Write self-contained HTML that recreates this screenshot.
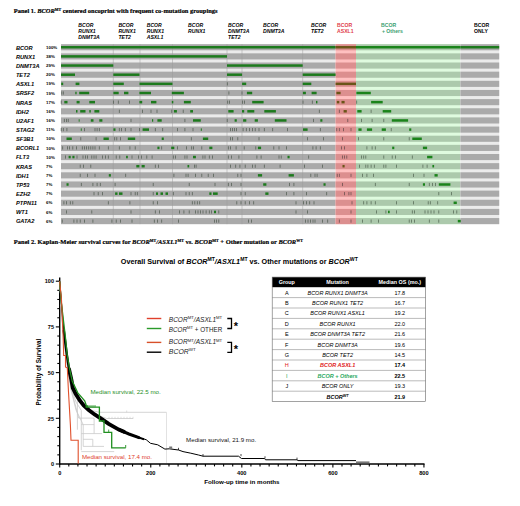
<!DOCTYPE html>
<html><head><meta charset="utf-8"><style>
html,body{margin:0;padding:0;background:#fff;}
svg{display:block;}
</style></head><body>
<svg width="520" height="506" viewBox="0 0 520 506">
<text x="13.8" y="13.2" font-family="'Liberation Serif', serif" font-size="6.5" font-weight="bold" font-style="normal" fill="#000" text-anchor="start" textLength="203.7" lengthAdjust="spacingAndGlyphs" stroke="#000" stroke-width="0.18">Panel 1. <tspan font-style="italic">BCOR</tspan><tspan font-size="4" dy="-2.2">MT</tspan><tspan dy="2.2"> centered oncoprint with frequent co-mutation groupings</tspan></text>
<rect x="61.0" y="44.2" width="274.60" height="179.95" fill="#ebebeb"/>
<rect x="61.0" y="44.20" width="274.60" height="6.1" fill="#aaaaaa"/>
<rect x="61.0" y="53.35" width="274.60" height="6.1" fill="#aaaaaa"/>
<rect x="61.0" y="62.50" width="274.60" height="6.1" fill="#aaaaaa"/>
<rect x="61.0" y="71.65" width="274.60" height="6.1" fill="#aaaaaa"/>
<rect x="61.0" y="80.80" width="274.60" height="6.1" fill="#aaaaaa"/>
<rect x="61.0" y="89.95" width="274.60" height="6.1" fill="#aaaaaa"/>
<rect x="61.0" y="99.10" width="274.60" height="6.1" fill="#aaaaaa"/>
<rect x="61.0" y="108.25" width="274.60" height="6.1" fill="#aaaaaa"/>
<rect x="61.0" y="117.40" width="274.60" height="6.1" fill="#aaaaaa"/>
<rect x="61.0" y="126.55" width="274.60" height="6.1" fill="#aaaaaa"/>
<rect x="61.0" y="135.70" width="274.60" height="6.1" fill="#aaaaaa"/>
<rect x="61.0" y="144.85" width="274.60" height="6.1" fill="#aaaaaa"/>
<rect x="61.0" y="154.00" width="274.60" height="6.1" fill="#aaaaaa"/>
<rect x="61.0" y="163.15" width="274.60" height="6.1" fill="#aaaaaa"/>
<rect x="61.0" y="172.30" width="274.60" height="6.1" fill="#aaaaaa"/>
<rect x="61.0" y="181.45" width="274.60" height="6.1" fill="#aaaaaa"/>
<rect x="61.0" y="190.60" width="274.60" height="6.1" fill="#aaaaaa"/>
<rect x="61.0" y="199.75" width="274.60" height="6.1" fill="#aaaaaa"/>
<rect x="61.0" y="208.90" width="274.60" height="6.1" fill="#aaaaaa"/>
<rect x="61.0" y="218.05" width="274.60" height="6.1" fill="#aaaaaa"/>
<rect x="335.6" y="44.2" width="20.40" height="179.95" fill="#ffc0c0"/>
<rect x="335.6" y="44.20" width="20.40" height="6.1" fill="#dc8f8f"/>
<rect x="335.6" y="53.35" width="20.40" height="6.1" fill="#dc8f8f"/>
<rect x="335.6" y="62.50" width="20.40" height="6.1" fill="#dc8f8f"/>
<rect x="335.6" y="71.65" width="20.40" height="6.1" fill="#dc8f8f"/>
<rect x="335.6" y="80.80" width="20.40" height="6.1" fill="#dc8f8f"/>
<rect x="335.6" y="89.95" width="20.40" height="6.1" fill="#dc8f8f"/>
<rect x="335.6" y="99.10" width="20.40" height="6.1" fill="#dc8f8f"/>
<rect x="335.6" y="108.25" width="20.40" height="6.1" fill="#dc8f8f"/>
<rect x="335.6" y="117.40" width="20.40" height="6.1" fill="#dc8f8f"/>
<rect x="335.6" y="126.55" width="20.40" height="6.1" fill="#dc8f8f"/>
<rect x="335.6" y="135.70" width="20.40" height="6.1" fill="#dc8f8f"/>
<rect x="335.6" y="144.85" width="20.40" height="6.1" fill="#dc8f8f"/>
<rect x="335.6" y="154.00" width="20.40" height="6.1" fill="#dc8f8f"/>
<rect x="335.6" y="163.15" width="20.40" height="6.1" fill="#dc8f8f"/>
<rect x="335.6" y="172.30" width="20.40" height="6.1" fill="#dc8f8f"/>
<rect x="335.6" y="181.45" width="20.40" height="6.1" fill="#dc8f8f"/>
<rect x="335.6" y="190.60" width="20.40" height="6.1" fill="#dc8f8f"/>
<rect x="335.6" y="199.75" width="20.40" height="6.1" fill="#dc8f8f"/>
<rect x="335.6" y="208.90" width="20.40" height="6.1" fill="#dc8f8f"/>
<rect x="335.6" y="218.05" width="20.40" height="6.1" fill="#dc8f8f"/>
<rect x="356.0" y="44.2" width="104.40" height="179.95" fill="#dffbdf"/>
<rect x="356.0" y="44.20" width="104.40" height="6.1" fill="#acc9ac"/>
<rect x="356.0" y="53.35" width="104.40" height="6.1" fill="#acc9ac"/>
<rect x="356.0" y="62.50" width="104.40" height="6.1" fill="#acc9ac"/>
<rect x="356.0" y="71.65" width="104.40" height="6.1" fill="#acc9ac"/>
<rect x="356.0" y="80.80" width="104.40" height="6.1" fill="#acc9ac"/>
<rect x="356.0" y="89.95" width="104.40" height="6.1" fill="#acc9ac"/>
<rect x="356.0" y="99.10" width="104.40" height="6.1" fill="#acc9ac"/>
<rect x="356.0" y="108.25" width="104.40" height="6.1" fill="#acc9ac"/>
<rect x="356.0" y="117.40" width="104.40" height="6.1" fill="#acc9ac"/>
<rect x="356.0" y="126.55" width="104.40" height="6.1" fill="#acc9ac"/>
<rect x="356.0" y="135.70" width="104.40" height="6.1" fill="#acc9ac"/>
<rect x="356.0" y="144.85" width="104.40" height="6.1" fill="#acc9ac"/>
<rect x="356.0" y="154.00" width="104.40" height="6.1" fill="#acc9ac"/>
<rect x="356.0" y="163.15" width="104.40" height="6.1" fill="#acc9ac"/>
<rect x="356.0" y="172.30" width="104.40" height="6.1" fill="#acc9ac"/>
<rect x="356.0" y="181.45" width="104.40" height="6.1" fill="#acc9ac"/>
<rect x="356.0" y="190.60" width="104.40" height="6.1" fill="#acc9ac"/>
<rect x="356.0" y="199.75" width="104.40" height="6.1" fill="#acc9ac"/>
<rect x="356.0" y="208.90" width="104.40" height="6.1" fill="#acc9ac"/>
<rect x="356.0" y="218.05" width="104.40" height="6.1" fill="#acc9ac"/>
<rect x="460.4" y="44.2" width="38.80" height="179.95" fill="#ebebeb"/>
<rect x="460.4" y="44.20" width="38.80" height="6.1" fill="#aaaaaa"/>
<rect x="460.4" y="53.35" width="38.80" height="6.1" fill="#aaaaaa"/>
<rect x="460.4" y="62.50" width="38.80" height="6.1" fill="#aaaaaa"/>
<rect x="460.4" y="71.65" width="38.80" height="6.1" fill="#aaaaaa"/>
<rect x="460.4" y="80.80" width="38.80" height="6.1" fill="#aaaaaa"/>
<rect x="460.4" y="89.95" width="38.80" height="6.1" fill="#aaaaaa"/>
<rect x="460.4" y="99.10" width="38.80" height="6.1" fill="#aaaaaa"/>
<rect x="460.4" y="108.25" width="38.80" height="6.1" fill="#aaaaaa"/>
<rect x="460.4" y="117.40" width="38.80" height="6.1" fill="#aaaaaa"/>
<rect x="460.4" y="126.55" width="38.80" height="6.1" fill="#aaaaaa"/>
<rect x="460.4" y="135.70" width="38.80" height="6.1" fill="#aaaaaa"/>
<rect x="460.4" y="144.85" width="38.80" height="6.1" fill="#aaaaaa"/>
<rect x="460.4" y="154.00" width="38.80" height="6.1" fill="#aaaaaa"/>
<rect x="460.4" y="163.15" width="38.80" height="6.1" fill="#aaaaaa"/>
<rect x="460.4" y="172.30" width="38.80" height="6.1" fill="#aaaaaa"/>
<rect x="460.4" y="181.45" width="38.80" height="6.1" fill="#aaaaaa"/>
<rect x="460.4" y="190.60" width="38.80" height="6.1" fill="#aaaaaa"/>
<rect x="460.4" y="199.75" width="38.80" height="6.1" fill="#aaaaaa"/>
<rect x="460.4" y="208.90" width="38.80" height="6.1" fill="#aaaaaa"/>
<rect x="460.4" y="218.05" width="38.80" height="6.1" fill="#aaaaaa"/>
<text x="15.9" y="49.6" font-family="'Liberation Sans', sans-serif" font-size="5.7" font-weight="bold" font-style="italic" fill="#000" text-anchor="start" >BCOR</text>
<text x="46.0" y="48.85" font-family="'Liberation Sans', sans-serif" font-size="4.4" font-weight="bold" font-style="normal" fill="#000" text-anchor="start" >100%</text>
<text x="15.9" y="58.75" font-family="'Liberation Sans', sans-serif" font-size="5.7" font-weight="bold" font-style="italic" fill="#000" text-anchor="start" >RUNX1</text>
<text x="46.0" y="58.0" font-family="'Liberation Sans', sans-serif" font-size="4.4" font-weight="bold" font-style="normal" fill="#000" text-anchor="start" >38%</text>
<text x="15.9" y="67.89999999999999" font-family="'Liberation Sans', sans-serif" font-size="5.7" font-weight="bold" font-style="italic" fill="#000" text-anchor="start" >DNMT3A</text>
<text x="46.0" y="67.14999999999999" font-family="'Liberation Sans', sans-serif" font-size="4.4" font-weight="bold" font-style="normal" fill="#000" text-anchor="start" >29%</text>
<text x="15.9" y="77.05" font-family="'Liberation Sans', sans-serif" font-size="5.7" font-weight="bold" font-style="italic" fill="#000" text-anchor="start" >TET2</text>
<text x="46.0" y="76.3" font-family="'Liberation Sans', sans-serif" font-size="4.4" font-weight="bold" font-style="normal" fill="#000" text-anchor="start" >20%</text>
<text x="15.9" y="86.2" font-family="'Liberation Sans', sans-serif" font-size="5.7" font-weight="bold" font-style="italic" fill="#000" text-anchor="start" >ASXL1</text>
<text x="46.0" y="85.45" font-family="'Liberation Sans', sans-serif" font-size="4.4" font-weight="bold" font-style="normal" fill="#000" text-anchor="start" >19%</text>
<text x="15.9" y="95.35" font-family="'Liberation Sans', sans-serif" font-size="5.7" font-weight="bold" font-style="italic" fill="#000" text-anchor="start" >SRSF2</text>
<text x="46.0" y="94.6" font-family="'Liberation Sans', sans-serif" font-size="4.4" font-weight="bold" font-style="normal" fill="#000" text-anchor="start" >19%</text>
<text x="15.9" y="104.5" font-family="'Liberation Sans', sans-serif" font-size="5.7" font-weight="bold" font-style="italic" fill="#000" text-anchor="start" >NRAS</text>
<text x="46.0" y="103.75" font-family="'Liberation Sans', sans-serif" font-size="4.4" font-weight="bold" font-style="normal" fill="#000" text-anchor="start" >17%</text>
<text x="15.9" y="113.64999999999999" font-family="'Liberation Sans', sans-serif" font-size="5.7" font-weight="bold" font-style="italic" fill="#000" text-anchor="start" >IDH2</text>
<text x="46.0" y="112.89999999999999" font-family="'Liberation Sans', sans-serif" font-size="4.4" font-weight="bold" font-style="normal" fill="#000" text-anchor="start" >16%</text>
<text x="15.9" y="122.8" font-family="'Liberation Sans', sans-serif" font-size="5.7" font-weight="bold" font-style="italic" fill="#000" text-anchor="start" >U2AF1</text>
<text x="46.0" y="122.05" font-family="'Liberation Sans', sans-serif" font-size="4.4" font-weight="bold" font-style="normal" fill="#000" text-anchor="start" >16%</text>
<text x="15.9" y="131.95000000000002" font-family="'Liberation Sans', sans-serif" font-size="5.7" font-weight="bold" font-style="italic" fill="#000" text-anchor="start" >STAG2</text>
<text x="46.0" y="131.20000000000002" font-family="'Liberation Sans', sans-serif" font-size="4.4" font-weight="bold" font-style="normal" fill="#000" text-anchor="start" >11%</text>
<text x="15.9" y="141.1" font-family="'Liberation Sans', sans-serif" font-size="5.7" font-weight="bold" font-style="italic" fill="#000" text-anchor="start" >SF3B1</text>
<text x="46.0" y="140.35" font-family="'Liberation Sans', sans-serif" font-size="4.4" font-weight="bold" font-style="normal" fill="#000" text-anchor="start" >10%</text>
<text x="15.9" y="150.25000000000003" font-family="'Liberation Sans', sans-serif" font-size="5.7" font-weight="bold" font-style="italic" fill="#000" text-anchor="start" >BCORL1</text>
<text x="46.0" y="149.50000000000003" font-family="'Liberation Sans', sans-serif" font-size="4.4" font-weight="bold" font-style="normal" fill="#000" text-anchor="start" >10%</text>
<text x="15.9" y="159.4" font-family="'Liberation Sans', sans-serif" font-size="5.7" font-weight="bold" font-style="italic" fill="#000" text-anchor="start" >FLT3</text>
<text x="46.0" y="158.65" font-family="'Liberation Sans', sans-serif" font-size="4.4" font-weight="bold" font-style="normal" fill="#000" text-anchor="start" >10%</text>
<text x="15.9" y="168.55" font-family="'Liberation Sans', sans-serif" font-size="5.7" font-weight="bold" font-style="italic" fill="#000" text-anchor="start" >KRAS</text>
<text x="46.0" y="167.8" font-family="'Liberation Sans', sans-serif" font-size="4.4" font-weight="bold" font-style="normal" fill="#000" text-anchor="start" >7%</text>
<text x="15.9" y="177.70000000000002" font-family="'Liberation Sans', sans-serif" font-size="5.7" font-weight="bold" font-style="italic" fill="#000" text-anchor="start" >IDH1</text>
<text x="46.0" y="176.95000000000002" font-family="'Liberation Sans', sans-serif" font-size="4.4" font-weight="bold" font-style="normal" fill="#000" text-anchor="start" >7%</text>
<text x="15.9" y="186.85" font-family="'Liberation Sans', sans-serif" font-size="5.7" font-weight="bold" font-style="italic" fill="#000" text-anchor="start" >TP53</text>
<text x="46.0" y="186.1" font-family="'Liberation Sans', sans-serif" font-size="4.4" font-weight="bold" font-style="normal" fill="#000" text-anchor="start" >7%</text>
<text x="15.9" y="196.00000000000003" font-family="'Liberation Sans', sans-serif" font-size="5.7" font-weight="bold" font-style="italic" fill="#000" text-anchor="start" >EZH2</text>
<text x="46.0" y="195.25000000000003" font-family="'Liberation Sans', sans-serif" font-size="4.4" font-weight="bold" font-style="normal" fill="#000" text-anchor="start" >7%</text>
<text x="15.9" y="205.15" font-family="'Liberation Sans', sans-serif" font-size="5.7" font-weight="bold" font-style="italic" fill="#000" text-anchor="start" >PTPN11</text>
<text x="46.0" y="204.4" font-family="'Liberation Sans', sans-serif" font-size="4.4" font-weight="bold" font-style="normal" fill="#000" text-anchor="start" >6%</text>
<text x="15.9" y="214.30000000000004" font-family="'Liberation Sans', sans-serif" font-size="5.7" font-weight="bold" font-style="italic" fill="#000" text-anchor="start" >WT1</text>
<text x="46.0" y="213.55000000000004" font-family="'Liberation Sans', sans-serif" font-size="4.4" font-weight="bold" font-style="normal" fill="#000" text-anchor="start" >6%</text>
<text x="15.9" y="223.45000000000002" font-family="'Liberation Sans', sans-serif" font-size="5.7" font-weight="bold" font-style="italic" fill="#000" text-anchor="start" >GATA2</text>
<text x="46.0" y="222.70000000000002" font-family="'Liberation Sans', sans-serif" font-size="4.4" font-weight="bold" font-style="normal" fill="#000" text-anchor="start" >6%</text>
<line x1="113.3" y1="44.2" x2="113.3" y2="224.15" stroke="#979797" stroke-width="0.45"/>
<line x1="140.0" y1="44.2" x2="140.0" y2="224.15" stroke="#979797" stroke-width="0.45"/>
<line x1="172.5" y1="44.2" x2="172.5" y2="224.15" stroke="#979797" stroke-width="0.45"/>
<line x1="227.0" y1="44.2" x2="227.0" y2="224.15" stroke="#979797" stroke-width="0.45"/>
<line x1="242.0" y1="44.2" x2="242.0" y2="224.15" stroke="#979797" stroke-width="0.45"/>
<line x1="302.7" y1="44.2" x2="302.7" y2="224.15" stroke="#979797" stroke-width="0.45"/>
<rect x="61.00" y="46.00" width="274.60" height="2.5" fill="#1d7a1d"/>
<rect x="335.60" y="46.00" width="20.40" height="2.5" fill="#6b5418"/>
<rect x="356.00" y="46.00" width="104.40" height="2.5" fill="#1a841a"/>
<rect x="460.40" y="46.00" width="38.80" height="2.5" fill="#1d7a1d"/>
<rect x="61.00" y="55.15" width="166.00" height="2.5" fill="#1d7a1d"/>
<rect x="61.00" y="64.30" width="52.30" height="2.5" fill="#1d7a1d"/>
<rect x="227.00" y="64.30" width="75.70" height="2.5" fill="#1d7a1d"/>
<rect x="61.00" y="73.45" width="14.00" height="2.5" fill="#1d7a1d"/>
<rect x="113.30" y="73.45" width="26.20" height="2.5" fill="#1d7a1d"/>
<rect x="227.00" y="73.45" width="15.10" height="2.5" fill="#1d7a1d"/>
<rect x="302.70" y="73.45" width="32.90" height="2.5" fill="#1d7a1d"/>
<rect x="61.20" y="82.60" width="2.00" height="2.5" fill="#1d7a1d"/>
<rect x="75.60" y="82.60" width="3.80" height="2.5" fill="#1d7a1d"/>
<rect x="113.30" y="82.60" width="10.50" height="2.5" fill="#1d7a1d"/>
<rect x="139.50" y="82.60" width="33.00" height="2.5" fill="#1d7a1d"/>
<rect x="226.90" y="82.25" width="0.8" height="3.2" fill="#586258"/>
<rect x="242.10" y="82.60" width="4.10" height="2.5" fill="#1d7a1d"/>
<rect x="302.70" y="82.60" width="8.60" height="2.5" fill="#1d7a1d"/>
<rect x="335.60" y="82.60" width="20.40" height="2.5" fill="#6b5418"/>
<rect x="61.40" y="91.40" width="0.8" height="3.2" fill="#586258"/>
<rect x="62.90" y="91.40" width="0.8" height="3.2" fill="#586258"/>
<rect x="75.30" y="91.75" width="1.30" height="2.5" fill="#1d7a1d"/>
<rect x="79.20" y="91.75" width="10.00" height="2.5" fill="#1d7a1d"/>
<rect x="113.40" y="91.75" width="5.30" height="2.5" fill="#1d7a1d"/>
<rect x="124.00" y="91.75" width="4.40" height="2.5" fill="#1d7a1d"/>
<rect x="139.40" y="91.75" width="11.60" height="2.5" fill="#1d7a1d"/>
<rect x="171.80" y="91.75" width="12.10" height="2.5" fill="#1d7a1d"/>
<rect x="228.50" y="91.40" width="0.8" height="3.2" fill="#586258"/>
<rect x="241.60" y="91.40" width="0.8" height="3.2" fill="#586258"/>
<rect x="246.90" y="91.75" width="5.30" height="2.5" fill="#1d7a1d"/>
<rect x="302.90" y="91.75" width="3.00" height="2.5" fill="#1d7a1d"/>
<rect x="311.60" y="91.75" width="5.00" height="2.5" fill="#1d7a1d"/>
<rect x="336.40" y="91.75" width="4.20" height="2.5" fill="#6b5418"/>
<rect x="356.40" y="91.75" width="14.40" height="2.5" fill="#1a841a"/>
<rect x="60.80" y="100.55" width="0.8" height="3.2" fill="#586258"/>
<rect x="64.30" y="100.90" width="3.20" height="2.5" fill="#1d7a1d"/>
<rect x="76.60" y="100.90" width="3.00" height="2.5" fill="#1d7a1d"/>
<rect x="89.30" y="100.90" width="5.70" height="2.5" fill="#1d7a1d"/>
<rect x="113.20" y="100.55" width="0.8" height="3.2" fill="#586258"/>
<rect x="117.90" y="100.55" width="0.8" height="3.2" fill="#586258"/>
<rect x="129.00" y="100.55" width="0.8" height="3.2" fill="#586258"/>
<rect x="139.40" y="100.90" width="2.80" height="2.5" fill="#1d7a1d"/>
<rect x="151.00" y="100.90" width="5.40" height="2.5" fill="#1d7a1d"/>
<rect x="171.80" y="100.90" width="1.50" height="2.5" fill="#1d7a1d"/>
<rect x="183.90" y="100.90" width="6.90" height="2.5" fill="#1d7a1d"/>
<rect x="227.30" y="100.55" width="0.8" height="3.2" fill="#586258"/>
<rect x="229.00" y="100.55" width="0.8" height="3.2" fill="#586258"/>
<rect x="242.10" y="100.55" width="0.8" height="3.2" fill="#586258"/>
<rect x="244.20" y="100.55" width="0.8" height="3.2" fill="#586258"/>
<rect x="252.20" y="100.90" width="11.40" height="2.5" fill="#1d7a1d"/>
<rect x="302.60" y="100.55" width="0.8" height="3.2" fill="#586258"/>
<rect x="311.90" y="100.55" width="0.8" height="3.2" fill="#586258"/>
<rect x="316.00" y="100.90" width="1.40" height="2.5" fill="#1d7a1d"/>
<rect x="336.80" y="100.90" width="2.50" height="2.5" fill="#6b5418"/>
<rect x="341.50" y="100.90" width="3.10" height="2.5" fill="#6b5418"/>
<rect x="356.30" y="100.55" width="0.8" height="3.2" fill="#5a6e5a"/>
<rect x="371.10" y="100.90" width="11.60" height="2.5" fill="#1a841a"/>
<rect x="76.00" y="110.05" width="1.50" height="2.5" fill="#1d7a1d"/>
<rect x="80.20" y="110.05" width="5.30" height="2.5" fill="#1d7a1d"/>
<rect x="89.30" y="110.05" width="1.50" height="2.5" fill="#1d7a1d"/>
<rect x="94.40" y="110.05" width="4.90" height="2.5" fill="#1d7a1d"/>
<rect x="118.90" y="109.70" width="0.8" height="3.2" fill="#586258"/>
<rect x="142.20" y="109.70" width="0.8" height="3.2" fill="#586258"/>
<rect x="150.60" y="109.70" width="0.8" height="3.2" fill="#586258"/>
<rect x="156.60" y="109.70" width="0.8" height="3.2" fill="#586258"/>
<rect x="171.40" y="109.70" width="0.8" height="3.2" fill="#586258"/>
<rect x="173.90" y="110.05" width="3.00" height="2.5" fill="#1d7a1d"/>
<rect x="182.80" y="109.70" width="0.8" height="3.2" fill="#586258"/>
<rect x="190.20" y="110.05" width="2.80" height="2.5" fill="#1d7a1d"/>
<rect x="228.30" y="110.05" width="5.30" height="2.5" fill="#1d7a1d"/>
<rect x="242.00" y="110.05" width="2.20" height="2.5" fill="#1d7a1d"/>
<rect x="247.30" y="110.05" width="7.00" height="2.5" fill="#1d7a1d"/>
<rect x="264.30" y="110.05" width="11.60" height="2.5" fill="#1d7a1d"/>
<rect x="318.90" y="109.70" width="0.8" height="3.2" fill="#586258"/>
<rect x="338.90" y="109.70" width="0.8" height="3.2" fill="#6e5050"/>
<rect x="343.60" y="110.05" width="3.20" height="2.5" fill="#6b5418"/>
<rect x="357.30" y="110.05" width="4.30" height="2.5" fill="#1a841a"/>
<rect x="370.70" y="109.70" width="0.8" height="3.2" fill="#5a6e5a"/>
<rect x="382.70" y="110.05" width="8.50" height="2.5" fill="#1a841a"/>
<rect x="63.90" y="118.85" width="0.8" height="3.2" fill="#586258"/>
<rect x="66.10" y="118.85" width="0.8" height="3.2" fill="#586258"/>
<rect x="67.80" y="118.85" width="0.8" height="3.2" fill="#586258"/>
<rect x="78.70" y="119.20" width="0.90" height="2.5" fill="#1d7a1d"/>
<rect x="90.80" y="119.20" width="2.70" height="2.5" fill="#1d7a1d"/>
<rect x="99.30" y="119.20" width="3.10" height="2.5" fill="#1d7a1d"/>
<rect x="130.60" y="118.85" width="0.8" height="3.2" fill="#586258"/>
<rect x="152.00" y="119.20" width="1.20" height="2.5" fill="#1d7a1d"/>
<rect x="157.40" y="119.20" width="4.30" height="2.5" fill="#1d7a1d"/>
<rect x="184.50" y="118.85" width="0.8" height="3.2" fill="#586258"/>
<rect x="193.00" y="119.20" width="7.80" height="2.5" fill="#1d7a1d"/>
<rect x="226.80" y="118.85" width="0.8" height="3.2" fill="#586258"/>
<rect x="234.60" y="119.20" width="2.20" height="2.5" fill="#1d7a1d"/>
<rect x="243.10" y="119.20" width="3.20" height="2.5" fill="#1d7a1d"/>
<rect x="254.70" y="119.20" width="3.20" height="2.5" fill="#1d7a1d"/>
<rect x="274.80" y="119.20" width="11.70" height="2.5" fill="#1d7a1d"/>
<rect x="313.10" y="118.85" width="0.8" height="3.2" fill="#586258"/>
<rect x="320.30" y="119.20" width="2.10" height="2.5" fill="#1d7a1d"/>
<rect x="347.40" y="118.85" width="0.8" height="3.2" fill="#6e5050"/>
<rect x="361.20" y="118.85" width="0.8" height="3.2" fill="#5a6e5a"/>
<rect x="371.70" y="118.85" width="0.8" height="3.2" fill="#5a6e5a"/>
<rect x="383.40" y="118.85" width="0.8" height="3.2" fill="#5a6e5a"/>
<rect x="391.80" y="119.20" width="16.30" height="2.5" fill="#1a841a"/>
<rect x="60.80" y="128.00" width="0.8" height="3.2" fill="#586258"/>
<rect x="62.90" y="128.00" width="0.8" height="3.2" fill="#586258"/>
<rect x="66.50" y="128.00" width="0.8" height="3.2" fill="#586258"/>
<rect x="80.80" y="128.35" width="0.90" height="2.5" fill="#1d7a1d"/>
<rect x="84.00" y="128.00" width="0.8" height="3.2" fill="#586258"/>
<rect x="94.60" y="128.00" width="0.8" height="3.2" fill="#586258"/>
<rect x="96.70" y="128.00" width="0.8" height="3.2" fill="#586258"/>
<rect x="98.90" y="128.00" width="0.8" height="3.2" fill="#586258"/>
<rect x="113.40" y="128.35" width="2.10" height="2.5" fill="#1d7a1d"/>
<rect x="118.90" y="128.00" width="0.8" height="3.2" fill="#586258"/>
<rect x="121.10" y="128.00" width="0.8" height="3.2" fill="#586258"/>
<rect x="124.90" y="128.00" width="0.8" height="3.2" fill="#586258"/>
<rect x="130.60" y="128.00" width="0.8" height="3.2" fill="#586258"/>
<rect x="139.00" y="128.00" width="0.8" height="3.2" fill="#586258"/>
<rect x="142.60" y="128.35" width="6.40" height="2.5" fill="#1d7a1d"/>
<rect x="154.90" y="128.00" width="0.8" height="3.2" fill="#586258"/>
<rect x="162.30" y="128.00" width="0.8" height="3.2" fill="#586258"/>
<rect x="177.10" y="128.00" width="0.8" height="3.2" fill="#586258"/>
<rect x="184.50" y="128.00" width="0.8" height="3.2" fill="#586258"/>
<rect x="192.60" y="128.00" width="0.8" height="3.2" fill="#586258"/>
<rect x="200.80" y="128.35" width="1.00" height="2.5" fill="#1d7a1d"/>
<rect x="230.10" y="128.00" width="0.8" height="3.2" fill="#586258"/>
<rect x="232.10" y="128.00" width="0.8" height="3.2" fill="#586258"/>
<rect x="234.10" y="128.00" width="0.8" height="3.2" fill="#586258"/>
<rect x="236.10" y="128.00" width="0.8" height="3.2" fill="#586258"/>
<rect x="242.70" y="128.00" width="0.8" height="3.2" fill="#586258"/>
<rect x="245.90" y="128.00" width="0.8" height="3.2" fill="#586258"/>
<rect x="249.00" y="128.00" width="0.8" height="3.2" fill="#586258"/>
<rect x="252.20" y="128.00" width="0.8" height="3.2" fill="#586258"/>
<rect x="254.80" y="128.00" width="0.8" height="3.2" fill="#586258"/>
<rect x="258.60" y="128.00" width="0.8" height="3.2" fill="#586258"/>
<rect x="263.90" y="128.00" width="0.8" height="3.2" fill="#586258"/>
<rect x="272.30" y="128.00" width="0.8" height="3.2" fill="#586258"/>
<rect x="287.10" y="128.00" width="0.8" height="3.2" fill="#586258"/>
<rect x="303.00" y="128.35" width="4.60" height="2.5" fill="#1d7a1d"/>
<rect x="319.90" y="128.00" width="0.8" height="3.2" fill="#586258"/>
<rect x="336.40" y="128.00" width="0.8" height="3.2" fill="#6e5050"/>
<rect x="338.90" y="128.00" width="0.8" height="3.2" fill="#6e5050"/>
<rect x="343.20" y="128.00" width="0.8" height="3.2" fill="#6e5050"/>
<rect x="350.60" y="128.00" width="0.8" height="3.2" fill="#6e5050"/>
<rect x="358.40" y="128.35" width="3.20" height="2.5" fill="#1a841a"/>
<rect x="366.90" y="128.35" width="5.20" height="2.5" fill="#1a841a"/>
<rect x="381.70" y="128.35" width="4.20" height="2.5" fill="#1a841a"/>
<rect x="390.80" y="128.00" width="0.8" height="3.2" fill="#5a6e5a"/>
<rect x="409.20" y="128.35" width="2.10" height="2.5" fill="#1a841a"/>
<rect x="66.50" y="137.50" width="5.30" height="2.5" fill="#1d7a1d"/>
<rect x="80.40" y="137.15" width="0.8" height="3.2" fill="#586258"/>
<rect x="95.70" y="137.15" width="0.8" height="3.2" fill="#586258"/>
<rect x="103.50" y="137.50" width="5.30" height="2.5" fill="#1d7a1d"/>
<rect x="114.30" y="137.15" width="0.8" height="3.2" fill="#586258"/>
<rect x="116.40" y="137.15" width="0.8" height="3.2" fill="#586258"/>
<rect x="120.00" y="137.15" width="0.8" height="3.2" fill="#586258"/>
<rect x="127.80" y="137.50" width="7.40" height="2.5" fill="#1d7a1d"/>
<rect x="161.70" y="137.50" width="2.10" height="2.5" fill="#1d7a1d"/>
<rect x="190.90" y="137.15" width="0.8" height="3.2" fill="#586258"/>
<rect x="202.90" y="137.50" width="5.30" height="2.5" fill="#1d7a1d"/>
<rect x="230.00" y="137.15" width="0.8" height="3.2" fill="#586258"/>
<rect x="232.10" y="137.15" width="0.8" height="3.2" fill="#586258"/>
<rect x="237.40" y="137.15" width="0.8" height="3.2" fill="#586258"/>
<rect x="258.60" y="137.15" width="0.8" height="3.2" fill="#586258"/>
<rect x="307.20" y="137.15" width="0.8" height="3.2" fill="#586258"/>
<rect x="323.10" y="137.15" width="0.8" height="3.2" fill="#586258"/>
<rect x="342.10" y="137.15" width="0.8" height="3.2" fill="#6e5050"/>
<rect x="358.00" y="137.15" width="0.8" height="3.2" fill="#5a6e5a"/>
<rect x="383.40" y="137.15" width="0.8" height="3.2" fill="#5a6e5a"/>
<rect x="408.80" y="137.15" width="0.8" height="3.2" fill="#5a6e5a"/>
<rect x="412.30" y="137.50" width="9.50" height="2.5" fill="#1a841a"/>
<rect x="62.30" y="146.30" width="0.8" height="3.2" fill="#586258"/>
<rect x="67.10" y="146.30" width="0.8" height="3.2" fill="#586258"/>
<rect x="69.20" y="146.30" width="0.8" height="3.2" fill="#586258"/>
<rect x="72.40" y="146.30" width="0.8" height="3.2" fill="#586258"/>
<rect x="76.20" y="146.30" width="0.8" height="3.2" fill="#586258"/>
<rect x="81.90" y="146.30" width="0.8" height="3.2" fill="#586258"/>
<rect x="84.00" y="146.30" width="0.8" height="3.2" fill="#586258"/>
<rect x="86.20" y="146.30" width="0.8" height="3.2" fill="#586258"/>
<rect x="88.30" y="146.30" width="0.8" height="3.2" fill="#586258"/>
<rect x="90.40" y="146.30" width="0.8" height="3.2" fill="#586258"/>
<rect x="92.50" y="146.30" width="0.8" height="3.2" fill="#586258"/>
<rect x="94.60" y="146.30" width="0.8" height="3.2" fill="#586258"/>
<rect x="98.90" y="146.30" width="0.8" height="3.2" fill="#586258"/>
<rect x="107.90" y="146.30" width="0.8" height="3.2" fill="#586258"/>
<rect x="118.90" y="146.30" width="0.8" height="3.2" fill="#586258"/>
<rect x="129.50" y="146.30" width="0.8" height="3.2" fill="#586258"/>
<rect x="134.80" y="146.30" width="0.8" height="3.2" fill="#586258"/>
<rect x="157.40" y="146.65" width="2.10" height="2.5" fill="#1d7a1d"/>
<rect x="161.30" y="146.30" width="0.8" height="3.2" fill="#586258"/>
<rect x="171.20" y="146.65" width="3.10" height="2.5" fill="#1d7a1d"/>
<rect x="177.10" y="146.30" width="0.8" height="3.2" fill="#586258"/>
<rect x="186.20" y="146.30" width="0.8" height="3.2" fill="#586258"/>
<rect x="191.30" y="146.30" width="0.8" height="3.2" fill="#586258"/>
<rect x="193.00" y="146.30" width="0.8" height="3.2" fill="#586258"/>
<rect x="201.40" y="146.30" width="0.8" height="3.2" fill="#586258"/>
<rect x="209.30" y="146.65" width="3.10" height="2.5" fill="#1d7a1d"/>
<rect x="227.90" y="146.30" width="0.8" height="3.2" fill="#586258"/>
<rect x="230.00" y="146.30" width="0.8" height="3.2" fill="#586258"/>
<rect x="235.70" y="146.30" width="0.8" height="3.2" fill="#586258"/>
<rect x="243.80" y="146.30" width="0.8" height="3.2" fill="#586258"/>
<rect x="255.40" y="146.30" width="0.8" height="3.2" fill="#586258"/>
<rect x="257.90" y="146.65" width="3.20" height="2.5" fill="#1d7a1d"/>
<rect x="273.40" y="146.30" width="0.8" height="3.2" fill="#586258"/>
<rect x="278.60" y="146.30" width="0.8" height="3.2" fill="#586258"/>
<rect x="286.10" y="146.30" width="0.8" height="3.2" fill="#586258"/>
<rect x="312.50" y="146.30" width="0.8" height="3.2" fill="#586258"/>
<rect x="315.70" y="146.30" width="0.8" height="3.2" fill="#586258"/>
<rect x="319.90" y="146.30" width="0.8" height="3.2" fill="#586258"/>
<rect x="341.10" y="146.30" width="0.8" height="3.2" fill="#6e5050"/>
<rect x="344.20" y="146.30" width="0.8" height="3.2" fill="#6e5050"/>
<rect x="366.50" y="146.30" width="0.8" height="3.2" fill="#5a6e5a"/>
<rect x="371.70" y="146.30" width="0.8" height="3.2" fill="#5a6e5a"/>
<rect x="374.90" y="146.30" width="0.8" height="3.2" fill="#5a6e5a"/>
<rect x="392.20" y="146.65" width="2.10" height="2.5" fill="#1a841a"/>
<rect x="422.90" y="146.65" width="4.20" height="2.5" fill="#1a841a"/>
<rect x="65.00" y="155.45" width="0.8" height="3.2" fill="#586258"/>
<rect x="68.60" y="155.80" width="2.10" height="2.5" fill="#1d7a1d"/>
<rect x="72.40" y="155.80" width="2.10" height="2.5" fill="#1d7a1d"/>
<rect x="76.60" y="155.45" width="0.8" height="3.2" fill="#586258"/>
<rect x="82.60" y="155.45" width="0.8" height="3.2" fill="#586258"/>
<rect x="85.10" y="155.45" width="0.8" height="3.2" fill="#586258"/>
<rect x="87.20" y="155.45" width="0.8" height="3.2" fill="#586258"/>
<rect x="91.40" y="155.45" width="0.8" height="3.2" fill="#586258"/>
<rect x="93.60" y="155.45" width="0.8" height="3.2" fill="#586258"/>
<rect x="95.70" y="155.45" width="0.8" height="3.2" fill="#586258"/>
<rect x="102.00" y="155.45" width="0.8" height="3.2" fill="#586258"/>
<rect x="105.20" y="155.45" width="0.8" height="3.2" fill="#586258"/>
<rect x="107.90" y="155.45" width="0.8" height="3.2" fill="#586258"/>
<rect x="115.80" y="155.45" width="0.8" height="3.2" fill="#586258"/>
<rect x="119.40" y="155.45" width="0.8" height="3.2" fill="#586258"/>
<rect x="126.10" y="155.80" width="1.70" height="2.5" fill="#1d7a1d"/>
<rect x="131.60" y="155.45" width="0.8" height="3.2" fill="#586258"/>
<rect x="138.00" y="155.45" width="0.8" height="3.2" fill="#586258"/>
<rect x="141.20" y="155.45" width="0.8" height="3.2" fill="#586258"/>
<rect x="146.40" y="155.45" width="0.8" height="3.2" fill="#586258"/>
<rect x="151.70" y="155.45" width="0.8" height="3.2" fill="#586258"/>
<rect x="172.90" y="155.45" width="0.8" height="3.2" fill="#586258"/>
<rect x="175.00" y="155.45" width="0.8" height="3.2" fill="#586258"/>
<rect x="184.50" y="155.45" width="0.8" height="3.2" fill="#586258"/>
<rect x="186.60" y="155.45" width="0.8" height="3.2" fill="#586258"/>
<rect x="193.00" y="155.80" width="2.90" height="2.5" fill="#1d7a1d"/>
<rect x="202.50" y="155.45" width="0.8" height="3.2" fill="#586258"/>
<rect x="204.60" y="155.45" width="0.8" height="3.2" fill="#586258"/>
<rect x="208.90" y="155.45" width="0.8" height="3.2" fill="#586258"/>
<rect x="212.00" y="155.45" width="0.8" height="3.2" fill="#586258"/>
<rect x="227.90" y="155.45" width="0.8" height="3.2" fill="#586258"/>
<rect x="231.10" y="155.45" width="0.8" height="3.2" fill="#586258"/>
<rect x="238.50" y="155.45" width="0.8" height="3.2" fill="#586258"/>
<rect x="256.50" y="155.45" width="0.8" height="3.2" fill="#586258"/>
<rect x="260.70" y="155.45" width="0.8" height="3.2" fill="#586258"/>
<rect x="278.60" y="155.45" width="0.8" height="3.2" fill="#586258"/>
<rect x="280.80" y="155.45" width="0.8" height="3.2" fill="#586258"/>
<rect x="287.50" y="155.80" width="2.10" height="2.5" fill="#1d7a1d"/>
<rect x="308.30" y="155.45" width="0.8" height="3.2" fill="#586258"/>
<rect x="342.10" y="155.45" width="0.8" height="3.2" fill="#6e5050"/>
<rect x="344.20" y="155.45" width="0.8" height="3.2" fill="#6e5050"/>
<rect x="346.40" y="155.45" width="0.8" height="3.2" fill="#6e5050"/>
<rect x="361.20" y="155.45" width="0.8" height="3.2" fill="#5a6e5a"/>
<rect x="363.30" y="155.45" width="0.8" height="3.2" fill="#5a6e5a"/>
<rect x="365.40" y="155.45" width="0.8" height="3.2" fill="#5a6e5a"/>
<rect x="383.40" y="155.45" width="0.8" height="3.2" fill="#5a6e5a"/>
<rect x="391.80" y="155.45" width="0.8" height="3.2" fill="#5a6e5a"/>
<rect x="395.00" y="155.45" width="0.8" height="3.2" fill="#5a6e5a"/>
<rect x="411.90" y="155.45" width="0.8" height="3.2" fill="#5a6e5a"/>
<rect x="427.10" y="155.80" width="5.30" height="2.5" fill="#1a841a"/>
<rect x="79.80" y="164.60" width="0.8" height="3.2" fill="#586258"/>
<rect x="83.00" y="164.60" width="0.8" height="3.2" fill="#586258"/>
<rect x="90.40" y="164.60" width="0.8" height="3.2" fill="#586258"/>
<rect x="136.30" y="164.95" width="3.10" height="2.5" fill="#1d7a1d"/>
<rect x="141.60" y="164.95" width="3.10" height="2.5" fill="#1d7a1d"/>
<rect x="154.90" y="164.60" width="0.8" height="3.2" fill="#586258"/>
<rect x="158.10" y="164.60" width="0.8" height="3.2" fill="#586258"/>
<rect x="187.50" y="164.95" width="1.70" height="2.5" fill="#1d7a1d"/>
<rect x="194.00" y="164.60" width="0.8" height="3.2" fill="#586258"/>
<rect x="195.70" y="164.60" width="0.8" height="3.2" fill="#586258"/>
<rect x="230.00" y="164.60" width="0.8" height="3.2" fill="#586258"/>
<rect x="235.30" y="164.60" width="0.8" height="3.2" fill="#586258"/>
<rect x="239.50" y="164.60" width="0.8" height="3.2" fill="#586258"/>
<rect x="244.80" y="164.60" width="0.8" height="3.2" fill="#586258"/>
<rect x="252.20" y="164.60" width="0.8" height="3.2" fill="#586258"/>
<rect x="254.80" y="164.60" width="0.8" height="3.2" fill="#586258"/>
<rect x="263.90" y="164.60" width="0.8" height="3.2" fill="#586258"/>
<rect x="279.70" y="164.60" width="0.8" height="3.2" fill="#586258"/>
<rect x="304.00" y="164.60" width="0.8" height="3.2" fill="#586258"/>
<rect x="322.00" y="164.60" width="0.8" height="3.2" fill="#586258"/>
<rect x="342.50" y="164.95" width="2.10" height="2.5" fill="#6b5418"/>
<rect x="359.00" y="164.60" width="0.8" height="3.2" fill="#5a6e5a"/>
<rect x="365.40" y="164.60" width="0.8" height="3.2" fill="#5a6e5a"/>
<rect x="367.50" y="164.60" width="0.8" height="3.2" fill="#5a6e5a"/>
<rect x="370.70" y="164.60" width="0.8" height="3.2" fill="#5a6e5a"/>
<rect x="373.90" y="164.60" width="0.8" height="3.2" fill="#5a6e5a"/>
<rect x="383.40" y="164.60" width="0.8" height="3.2" fill="#5a6e5a"/>
<rect x="385.50" y="164.60" width="0.8" height="3.2" fill="#5a6e5a"/>
<rect x="396.10" y="164.60" width="0.8" height="3.2" fill="#5a6e5a"/>
<rect x="422.50" y="164.60" width="0.8" height="3.2" fill="#5a6e5a"/>
<rect x="426.70" y="164.60" width="0.8" height="3.2" fill="#5a6e5a"/>
<rect x="432.40" y="164.95" width="1.70" height="2.5" fill="#1a841a"/>
<rect x="79.80" y="173.75" width="0.8" height="3.2" fill="#586258"/>
<rect x="87.20" y="173.75" width="0.8" height="3.2" fill="#586258"/>
<rect x="94.60" y="173.75" width="0.8" height="3.2" fill="#586258"/>
<rect x="108.80" y="174.10" width="2.10" height="2.5" fill="#1d7a1d"/>
<rect x="125.30" y="173.75" width="0.8" height="3.2" fill="#586258"/>
<rect x="173.50" y="173.75" width="0.8" height="3.2" fill="#586258"/>
<rect x="185.60" y="173.75" width="0.8" height="3.2" fill="#586258"/>
<rect x="187.70" y="173.75" width="0.8" height="3.2" fill="#586258"/>
<rect x="195.10" y="173.75" width="0.8" height="3.2" fill="#586258"/>
<rect x="201.40" y="173.75" width="0.8" height="3.2" fill="#586258"/>
<rect x="207.80" y="173.75" width="0.8" height="3.2" fill="#586258"/>
<rect x="213.10" y="173.75" width="0.8" height="3.2" fill="#586258"/>
<rect x="237.40" y="173.75" width="0.8" height="3.2" fill="#586258"/>
<rect x="240.60" y="173.75" width="0.8" height="3.2" fill="#586258"/>
<rect x="257.90" y="174.10" width="4.20" height="2.5" fill="#1d7a1d"/>
<rect x="288.60" y="174.10" width="5.30" height="2.5" fill="#1d7a1d"/>
<rect x="310.40" y="173.75" width="0.8" height="3.2" fill="#586258"/>
<rect x="314.60" y="173.75" width="0.8" height="3.2" fill="#586258"/>
<rect x="316.70" y="173.75" width="0.8" height="3.2" fill="#586258"/>
<rect x="336.80" y="173.75" width="0.8" height="3.2" fill="#6e5050"/>
<rect x="338.90" y="173.75" width="0.8" height="3.2" fill="#6e5050"/>
<rect x="350.60" y="173.75" width="0.8" height="3.2" fill="#6e5050"/>
<rect x="362.20" y="173.75" width="0.8" height="3.2" fill="#5a6e5a"/>
<rect x="366.50" y="173.75" width="0.8" height="3.2" fill="#5a6e5a"/>
<rect x="373.00" y="173.75" width="0.8" height="3.2" fill="#5a6e5a"/>
<rect x="413.00" y="173.75" width="0.8" height="3.2" fill="#5a6e5a"/>
<rect x="423.60" y="173.75" width="0.8" height="3.2" fill="#5a6e5a"/>
<rect x="434.50" y="174.10" width="3.20" height="2.5" fill="#1a841a"/>
<rect x="66.50" y="183.25" width="2.10" height="2.5" fill="#1d7a1d"/>
<rect x="80.90" y="182.90" width="0.8" height="3.2" fill="#586258"/>
<rect x="92.50" y="182.90" width="0.8" height="3.2" fill="#586258"/>
<rect x="96.70" y="182.90" width="0.8" height="3.2" fill="#586258"/>
<rect x="99.90" y="182.90" width="0.8" height="3.2" fill="#586258"/>
<rect x="114.70" y="182.90" width="0.8" height="3.2" fill="#586258"/>
<rect x="152.80" y="182.90" width="0.8" height="3.2" fill="#586258"/>
<rect x="188.80" y="182.90" width="0.8" height="3.2" fill="#586258"/>
<rect x="214.60" y="182.90" width="0.8" height="3.2" fill="#586258"/>
<rect x="227.90" y="182.90" width="0.8" height="3.2" fill="#586258"/>
<rect x="231.10" y="182.90" width="0.8" height="3.2" fill="#586258"/>
<rect x="240.60" y="182.90" width="0.8" height="3.2" fill="#586258"/>
<rect x="263.20" y="183.25" width="3.20" height="2.5" fill="#1d7a1d"/>
<rect x="289.20" y="182.90" width="0.8" height="3.2" fill="#586258"/>
<rect x="293.50" y="182.90" width="0.8" height="3.2" fill="#586258"/>
<rect x="323.50" y="183.25" width="2.10" height="2.5" fill="#1d7a1d"/>
<rect x="342.10" y="182.90" width="0.8" height="3.2" fill="#6e5050"/>
<rect x="374.90" y="182.90" width="0.8" height="3.2" fill="#5a6e5a"/>
<rect x="408.80" y="182.90" width="0.8" height="3.2" fill="#5a6e5a"/>
<rect x="422.90" y="183.25" width="2.10" height="2.5" fill="#1a841a"/>
<rect x="428.90" y="182.90" width="0.8" height="3.2" fill="#5a6e5a"/>
<rect x="432.00" y="182.90" width="0.8" height="3.2" fill="#5a6e5a"/>
<rect x="435.20" y="182.90" width="0.8" height="3.2" fill="#5a6e5a"/>
<rect x="438.80" y="183.25" width="11.60" height="2.5" fill="#1a841a"/>
<rect x="93.60" y="192.05" width="0.8" height="3.2" fill="#586258"/>
<rect x="97.80" y="192.05" width="0.8" height="3.2" fill="#586258"/>
<rect x="102.00" y="192.05" width="0.8" height="3.2" fill="#586258"/>
<rect x="115.10" y="192.40" width="2.40" height="2.5" fill="#1d7a1d"/>
<rect x="119.00" y="192.40" width="3.50" height="2.5" fill="#1d7a1d"/>
<rect x="130.60" y="192.05" width="0.8" height="3.2" fill="#586258"/>
<rect x="134.80" y="192.05" width="0.8" height="3.2" fill="#586258"/>
<rect x="136.90" y="192.05" width="0.8" height="3.2" fill="#586258"/>
<rect x="152.80" y="192.05" width="0.8" height="3.2" fill="#586258"/>
<rect x="156.00" y="192.40" width="2.00" height="2.5" fill="#1d7a1d"/>
<rect x="160.50" y="192.40" width="2.50" height="2.5" fill="#1d7a1d"/>
<rect x="165.50" y="192.40" width="2.50" height="2.5" fill="#1d7a1d"/>
<rect x="172.90" y="192.05" width="0.8" height="3.2" fill="#586258"/>
<rect x="185.60" y="192.05" width="0.8" height="3.2" fill="#586258"/>
<rect x="188.80" y="192.05" width="0.8" height="3.2" fill="#586258"/>
<rect x="191.90" y="192.05" width="0.8" height="3.2" fill="#586258"/>
<rect x="209.30" y="192.40" width="2.20" height="2.5" fill="#1d7a1d"/>
<rect x="213.00" y="192.40" width="4.70" height="2.5" fill="#1d7a1d"/>
<rect x="240.60" y="192.05" width="0.8" height="3.2" fill="#586258"/>
<rect x="244.80" y="192.05" width="0.8" height="3.2" fill="#586258"/>
<rect x="265.30" y="192.40" width="3.20" height="2.5" fill="#1d7a1d"/>
<rect x="286.10" y="192.05" width="0.8" height="3.2" fill="#586258"/>
<rect x="293.50" y="192.05" width="0.8" height="3.2" fill="#586258"/>
<rect x="306.20" y="192.05" width="0.8" height="3.2" fill="#586258"/>
<rect x="326.30" y="192.05" width="0.8" height="3.2" fill="#586258"/>
<rect x="344.20" y="192.05" width="0.8" height="3.2" fill="#6e5050"/>
<rect x="348.50" y="192.05" width="0.8" height="3.2" fill="#6e5050"/>
<rect x="350.60" y="192.05" width="0.8" height="3.2" fill="#6e5050"/>
<rect x="438.40" y="192.05" width="0.8" height="3.2" fill="#5a6e5a"/>
<rect x="451.10" y="192.05" width="0.8" height="3.2" fill="#5a6e5a"/>
<rect x="63.50" y="201.20" width="0.8" height="3.2" fill="#586258"/>
<rect x="66.10" y="201.20" width="0.8" height="3.2" fill="#586258"/>
<rect x="69.90" y="201.20" width="0.8" height="3.2" fill="#586258"/>
<rect x="72.40" y="201.20" width="0.8" height="3.2" fill="#586258"/>
<rect x="107.90" y="201.20" width="0.8" height="3.2" fill="#586258"/>
<rect x="129.50" y="201.20" width="0.8" height="3.2" fill="#586258"/>
<rect x="152.80" y="201.20" width="0.8" height="3.2" fill="#586258"/>
<rect x="157.00" y="201.20" width="0.8" height="3.2" fill="#586258"/>
<rect x="191.90" y="201.20" width="0.8" height="3.2" fill="#586258"/>
<rect x="194.40" y="201.20" width="0.8" height="3.2" fill="#586258"/>
<rect x="196.90" y="201.20" width="0.8" height="3.2" fill="#586258"/>
<rect x="199.30" y="201.20" width="0.8" height="3.2" fill="#586258"/>
<rect x="236.40" y="201.20" width="0.8" height="3.2" fill="#586258"/>
<rect x="240.60" y="201.20" width="0.8" height="3.2" fill="#586258"/>
<rect x="244.80" y="201.20" width="0.8" height="3.2" fill="#586258"/>
<rect x="249.00" y="201.20" width="0.8" height="3.2" fill="#586258"/>
<rect x="253.30" y="201.20" width="0.8" height="3.2" fill="#586258"/>
<rect x="295.60" y="201.20" width="0.8" height="3.2" fill="#586258"/>
<rect x="303.00" y="201.20" width="0.8" height="3.2" fill="#586258"/>
<rect x="306.20" y="201.20" width="0.8" height="3.2" fill="#586258"/>
<rect x="309.30" y="201.20" width="0.8" height="3.2" fill="#586258"/>
<rect x="313.60" y="201.20" width="0.8" height="3.2" fill="#586258"/>
<rect x="351.60" y="201.20" width="0.8" height="3.2" fill="#6e5050"/>
<rect x="363.30" y="201.20" width="0.8" height="3.2" fill="#5a6e5a"/>
<rect x="366.50" y="201.20" width="0.8" height="3.2" fill="#5a6e5a"/>
<rect x="370.70" y="201.20" width="0.8" height="3.2" fill="#5a6e5a"/>
<rect x="374.90" y="201.20" width="0.8" height="3.2" fill="#5a6e5a"/>
<rect x="396.10" y="201.20" width="0.8" height="3.2" fill="#5a6e5a"/>
<rect x="413.00" y="201.20" width="0.8" height="3.2" fill="#5a6e5a"/>
<rect x="427.80" y="201.20" width="0.8" height="3.2" fill="#5a6e5a"/>
<rect x="429.90" y="201.20" width="0.8" height="3.2" fill="#5a6e5a"/>
<rect x="437.30" y="201.20" width="0.8" height="3.2" fill="#5a6e5a"/>
<rect x="453.60" y="201.55" width="3.20" height="2.5" fill="#1a841a"/>
<rect x="66.10" y="210.35" width="0.8" height="3.2" fill="#586258"/>
<rect x="91.40" y="210.35" width="0.8" height="3.2" fill="#586258"/>
<rect x="130.60" y="210.35" width="0.8" height="3.2" fill="#586258"/>
<rect x="154.90" y="210.35" width="0.8" height="3.2" fill="#586258"/>
<rect x="159.10" y="210.35" width="0.8" height="3.2" fill="#586258"/>
<rect x="179.20" y="210.35" width="0.8" height="3.2" fill="#586258"/>
<rect x="183.50" y="210.35" width="0.8" height="3.2" fill="#586258"/>
<rect x="188.80" y="210.35" width="0.8" height="3.2" fill="#586258"/>
<rect x="195.10" y="210.35" width="0.8" height="3.2" fill="#586258"/>
<rect x="197.60" y="210.35" width="0.8" height="3.2" fill="#586258"/>
<rect x="200.10" y="210.35" width="0.8" height="3.2" fill="#586258"/>
<rect x="202.60" y="210.35" width="0.8" height="3.2" fill="#586258"/>
<rect x="205.70" y="210.35" width="0.8" height="3.2" fill="#586258"/>
<rect x="208.90" y="210.35" width="0.8" height="3.2" fill="#586258"/>
<rect x="211.10" y="210.35" width="0.8" height="3.2" fill="#586258"/>
<rect x="214.00" y="210.70" width="2.00" height="2.5" fill="#1d7a1d"/>
<rect x="218.40" y="210.35" width="0.8" height="3.2" fill="#586258"/>
<rect x="295.60" y="210.35" width="0.8" height="3.2" fill="#586258"/>
<rect x="307.20" y="210.35" width="0.8" height="3.2" fill="#586258"/>
<rect x="350.60" y="210.35" width="0.8" height="3.2" fill="#6e5050"/>
<rect x="376.00" y="210.35" width="0.8" height="3.2" fill="#5a6e5a"/>
<rect x="385.50" y="210.35" width="0.8" height="3.2" fill="#5a6e5a"/>
<rect x="388.00" y="210.70" width="1.70" height="2.5" fill="#1a841a"/>
<rect x="396.10" y="210.35" width="0.8" height="3.2" fill="#5a6e5a"/>
<rect x="411.90" y="210.35" width="0.8" height="3.2" fill="#5a6e5a"/>
<rect x="414.00" y="210.35" width="0.8" height="3.2" fill="#5a6e5a"/>
<rect x="424.60" y="210.35" width="0.8" height="3.2" fill="#5a6e5a"/>
<rect x="427.60" y="210.35" width="0.8" height="3.2" fill="#5a6e5a"/>
<rect x="430.60" y="210.35" width="0.8" height="3.2" fill="#5a6e5a"/>
<rect x="433.60" y="210.35" width="0.8" height="3.2" fill="#5a6e5a"/>
<rect x="438.40" y="210.35" width="0.8" height="3.2" fill="#5a6e5a"/>
<rect x="453.20" y="210.35" width="0.8" height="3.2" fill="#5a6e5a"/>
<rect x="456.40" y="210.35" width="0.8" height="3.2" fill="#5a6e5a"/>
<rect x="61.80" y="219.50" width="0.8" height="3.2" fill="#586258"/>
<rect x="73.50" y="219.50" width="0.8" height="3.2" fill="#586258"/>
<rect x="76.60" y="219.50" width="0.8" height="3.2" fill="#586258"/>
<rect x="79.80" y="219.50" width="0.8" height="3.2" fill="#586258"/>
<rect x="84.00" y="219.50" width="0.8" height="3.2" fill="#586258"/>
<rect x="92.50" y="219.50" width="0.8" height="3.2" fill="#586258"/>
<rect x="111.50" y="219.50" width="0.8" height="3.2" fill="#586258"/>
<rect x="115.80" y="219.50" width="0.8" height="3.2" fill="#586258"/>
<rect x="120.00" y="219.50" width="0.8" height="3.2" fill="#586258"/>
<rect x="131.60" y="219.50" width="0.8" height="3.2" fill="#586258"/>
<rect x="153.90" y="219.50" width="0.8" height="3.2" fill="#586258"/>
<rect x="157.00" y="219.50" width="0.8" height="3.2" fill="#586258"/>
<rect x="161.30" y="219.50" width="0.8" height="3.2" fill="#586258"/>
<rect x="178.20" y="219.50" width="0.8" height="3.2" fill="#586258"/>
<rect x="214.10" y="219.50" width="0.8" height="3.2" fill="#586258"/>
<rect x="216.10" y="219.50" width="0.8" height="3.2" fill="#586258"/>
<rect x="218.40" y="219.50" width="0.8" height="3.2" fill="#586258"/>
<rect x="248.00" y="219.50" width="0.8" height="3.2" fill="#586258"/>
<rect x="251.20" y="219.50" width="0.8" height="3.2" fill="#586258"/>
<rect x="305.10" y="219.50" width="0.8" height="3.2" fill="#586258"/>
<rect x="307.60" y="219.50" width="0.8" height="3.2" fill="#586258"/>
<rect x="310.10" y="219.50" width="0.8" height="3.2" fill="#586258"/>
<rect x="312.60" y="219.50" width="0.8" height="3.2" fill="#586258"/>
<rect x="314.60" y="219.50" width="0.8" height="3.2" fill="#586258"/>
<rect x="322.00" y="219.50" width="0.8" height="3.2" fill="#586258"/>
<rect x="327.30" y="219.50" width="0.8" height="3.2" fill="#586258"/>
<rect x="338.90" y="219.50" width="0.8" height="3.2" fill="#6e5050"/>
<rect x="350.60" y="219.50" width="0.8" height="3.2" fill="#6e5050"/>
<rect x="362.20" y="219.50" width="0.8" height="3.2" fill="#5a6e5a"/>
<rect x="370.70" y="219.50" width="0.8" height="3.2" fill="#5a6e5a"/>
<rect x="378.10" y="219.50" width="0.8" height="3.2" fill="#5a6e5a"/>
<rect x="408.80" y="219.50" width="0.8" height="3.2" fill="#5a6e5a"/>
<rect x="411.10" y="219.50" width="0.8" height="3.2" fill="#5a6e5a"/>
<rect x="414.00" y="219.50" width="0.8" height="3.2" fill="#5a6e5a"/>
<rect x="428.90" y="219.50" width="0.8" height="3.2" fill="#5a6e5a"/>
<rect x="438.40" y="219.50" width="0.8" height="3.2" fill="#5a6e5a"/>
<rect x="457.80" y="219.85" width="2.60" height="2.5" fill="#1a841a"/>
<rect x="460.40" y="219.85" width="0.60" height="2.5" fill="#1d7a1d"/>
<text x="78.3" y="26.8" font-family="'Liberation Sans', sans-serif" font-size="5.15" font-weight="bold" font-style="italic" fill="#000" text-anchor="start" >BCOR</text>
<text x="78.3" y="33.0" font-family="'Liberation Sans', sans-serif" font-size="5.15" font-weight="bold" font-style="italic" fill="#000" text-anchor="start" >RUNX1</text>
<text x="78.3" y="39.2" font-family="'Liberation Sans', sans-serif" font-size="5.15" font-weight="bold" font-style="italic" fill="#000" text-anchor="start" >DNMT3A</text>
<text x="118.4" y="26.8" font-family="'Liberation Sans', sans-serif" font-size="5.15" font-weight="bold" font-style="italic" fill="#000" text-anchor="start" >BCOR</text>
<text x="118.4" y="33.0" font-family="'Liberation Sans', sans-serif" font-size="5.15" font-weight="bold" font-style="italic" fill="#000" text-anchor="start" >RUNX1</text>
<text x="118.4" y="39.2" font-family="'Liberation Sans', sans-serif" font-size="5.15" font-weight="bold" font-style="italic" fill="#000" text-anchor="start" >TET2</text>
<text x="146.7" y="26.8" font-family="'Liberation Sans', sans-serif" font-size="5.15" font-weight="bold" font-style="italic" fill="#000" text-anchor="start" >BCOR</text>
<text x="146.7" y="33.0" font-family="'Liberation Sans', sans-serif" font-size="5.15" font-weight="bold" font-style="italic" fill="#000" text-anchor="start" >RUNX1</text>
<text x="146.7" y="39.2" font-family="'Liberation Sans', sans-serif" font-size="5.15" font-weight="bold" font-style="italic" fill="#000" text-anchor="start" >ASXL1</text>
<text x="188.0" y="26.8" font-family="'Liberation Sans', sans-serif" font-size="5.15" font-weight="bold" font-style="italic" fill="#000" text-anchor="start" >BCOR</text>
<text x="188.0" y="33.0" font-family="'Liberation Sans', sans-serif" font-size="5.15" font-weight="bold" font-style="italic" fill="#000" text-anchor="start" >RUNX1</text>
<text x="228.0" y="26.8" font-family="'Liberation Sans', sans-serif" font-size="5.15" font-weight="bold" font-style="italic" fill="#000" text-anchor="start" >BCOR</text>
<text x="228.0" y="33.0" font-family="'Liberation Sans', sans-serif" font-size="5.15" font-weight="bold" font-style="italic" fill="#000" text-anchor="start" >DNMT3A</text>
<text x="228.0" y="39.2" font-family="'Liberation Sans', sans-serif" font-size="5.15" font-weight="bold" font-style="italic" fill="#000" text-anchor="start" >TET2</text>
<text x="263.0" y="26.8" font-family="'Liberation Sans', sans-serif" font-size="5.15" font-weight="bold" font-style="italic" fill="#000" text-anchor="start" >BCOR</text>
<text x="263.0" y="33.0" font-family="'Liberation Sans', sans-serif" font-size="5.15" font-weight="bold" font-style="italic" fill="#000" text-anchor="start" >DNMT3A</text>
<text x="311.0" y="26.8" font-family="'Liberation Sans', sans-serif" font-size="5.15" font-weight="bold" font-style="italic" fill="#000" text-anchor="start" >BCOR</text>
<text x="311.0" y="33.0" font-family="'Liberation Sans', sans-serif" font-size="5.15" font-weight="bold" font-style="italic" fill="#000" text-anchor="start" >TET2</text>
<text x="337.0" y="26.8" font-family="'Liberation Sans', sans-serif" font-size="5.15" font-weight="bold" font-style="normal" fill="#e0404a" text-anchor="start" >BCOR</text>
<text x="337.0" y="33.0" font-family="'Liberation Sans', sans-serif" font-size="5.15" font-weight="bold" font-style="normal" fill="#e0404a" text-anchor="start" >ASXL1</text>
<text x="381.0" y="26.8" font-family="'Liberation Sans', sans-serif" font-size="5.15" font-weight="bold" font-style="normal" fill="#3aa070" text-anchor="start" >BCOR</text>
<text x="381.9" y="33.0" font-family="'Liberation Sans', sans-serif" font-size="5.15" font-weight="bold" font-style="normal" fill="#3aa070" text-anchor="start" >+ Others</text>
<text x="474.0" y="26.8" font-family="'Liberation Sans', sans-serif" font-size="5.15" font-weight="bold" font-style="normal" fill="#000" text-anchor="start" >BCOR</text>
<text x="474.0" y="33.0" font-family="'Liberation Sans', sans-serif" font-size="5.15" font-weight="bold" font-style="normal" fill="#000" text-anchor="start" >ONLY</text>
<text x="13.8" y="243.8" font-family="'Liberation Serif', serif" font-size="6.6" font-weight="bold" font-style="normal" fill="#000" text-anchor="start" textLength="289" lengthAdjust="spacingAndGlyphs" stroke="#000" stroke-width="0.18">Panel 2. Kaplan-Meier survival curves for <tspan font-style="italic">BCOR</tspan><tspan font-size="4" dy="-2.2">MT</tspan><tspan dy="2.2" font-style="italic">/ASXL1</tspan><tspan font-size="4" dy="-2.2">MT</tspan><tspan dy="2.2"> vs. </tspan><tspan font-style="italic">BCOR</tspan><tspan font-size="4" dy="-2.2">MT</tspan><tspan dy="2.2"> + Other mutation or </tspan><tspan font-style="italic">BCOR</tspan><tspan font-size="4" dy="-2.2">WT</tspan></text>
<text x="120.8" y="264.2" font-family="'Liberation Sans', sans-serif" font-size="7.9" font-weight="bold" font-style="normal" fill="#000" text-anchor="start" textLength="237" lengthAdjust="spacingAndGlyphs" >Overall Survival of <tspan font-style="italic">BCOR</tspan><tspan font-size="5.6" dy="-3.2">MT</tspan><tspan dy="3.2" font-style="italic">/ASXL1</tspan><tspan font-size="5.6" dy="-3.2">MT</tspan><tspan dy="3.2"> vs. Other mutations or </tspan><tspan font-style="italic">BCOR</tspan><tspan font-size="5.6" dy="-3.2">WT</tspan></text>
<line x1="59.7" y1="277.5" x2="59.7" y2="464.7" stroke="#000" stroke-width="1.4"/>
<line x1="59" y1="464.0" x2="424.54" y2="464.0" stroke="#000" stroke-width="1.4"/>
<line x1="55.800000000000004" y1="464.00" x2="59.7" y2="464.00" stroke="#000" stroke-width="1.1"/>
<line x1="57.300000000000004" y1="454.86" x2="59.7" y2="454.86" stroke="#000" stroke-width="1.1"/>
<line x1="57.300000000000004" y1="445.72" x2="59.7" y2="445.72" stroke="#000" stroke-width="1.1"/>
<line x1="57.300000000000004" y1="436.58" x2="59.7" y2="436.58" stroke="#000" stroke-width="1.1"/>
<line x1="57.300000000000004" y1="427.44" x2="59.7" y2="427.44" stroke="#000" stroke-width="1.1"/>
<line x1="55.800000000000004" y1="418.30" x2="59.7" y2="418.30" stroke="#000" stroke-width="1.1"/>
<line x1="57.300000000000004" y1="409.16" x2="59.7" y2="409.16" stroke="#000" stroke-width="1.1"/>
<line x1="57.300000000000004" y1="400.02" x2="59.7" y2="400.02" stroke="#000" stroke-width="1.1"/>
<line x1="57.300000000000004" y1="390.88" x2="59.7" y2="390.88" stroke="#000" stroke-width="1.1"/>
<line x1="57.300000000000004" y1="381.74" x2="59.7" y2="381.74" stroke="#000" stroke-width="1.1"/>
<line x1="55.800000000000004" y1="372.60" x2="59.7" y2="372.60" stroke="#000" stroke-width="1.1"/>
<line x1="57.300000000000004" y1="363.46" x2="59.7" y2="363.46" stroke="#000" stroke-width="1.1"/>
<line x1="57.300000000000004" y1="354.32" x2="59.7" y2="354.32" stroke="#000" stroke-width="1.1"/>
<line x1="57.300000000000004" y1="345.18" x2="59.7" y2="345.18" stroke="#000" stroke-width="1.1"/>
<line x1="57.300000000000004" y1="336.04" x2="59.7" y2="336.04" stroke="#000" stroke-width="1.1"/>
<line x1="55.800000000000004" y1="326.90" x2="59.7" y2="326.90" stroke="#000" stroke-width="1.1"/>
<line x1="57.300000000000004" y1="317.76" x2="59.7" y2="317.76" stroke="#000" stroke-width="1.1"/>
<line x1="57.300000000000004" y1="308.62" x2="59.7" y2="308.62" stroke="#000" stroke-width="1.1"/>
<line x1="57.300000000000004" y1="299.48" x2="59.7" y2="299.48" stroke="#000" stroke-width="1.1"/>
<line x1="57.300000000000004" y1="290.34" x2="59.7" y2="290.34" stroke="#000" stroke-width="1.1"/>
<line x1="55.800000000000004" y1="281.20" x2="59.7" y2="281.20" stroke="#000" stroke-width="1.1"/>
<text x="54.0" y="466.2" font-family="'Liberation Sans', sans-serif" font-size="6.0" font-weight="bold" font-style="normal" fill="#000" text-anchor="end" textLength="3.1" lengthAdjust="spacingAndGlyphs" >0</text>
<text x="54.0" y="420.5" font-family="'Liberation Sans', sans-serif" font-size="6.0" font-weight="bold" font-style="normal" fill="#000" text-anchor="end" textLength="6.2" lengthAdjust="spacingAndGlyphs" >25</text>
<text x="54.0" y="374.8" font-family="'Liberation Sans', sans-serif" font-size="6.0" font-weight="bold" font-style="normal" fill="#000" text-anchor="end" textLength="6.2" lengthAdjust="spacingAndGlyphs" >50</text>
<text x="54.0" y="329.09999999999997" font-family="'Liberation Sans', sans-serif" font-size="6.0" font-weight="bold" font-style="normal" fill="#000" text-anchor="end" textLength="6.2" lengthAdjust="spacingAndGlyphs" >75</text>
<text x="54.0" y="283.4" font-family="'Liberation Sans', sans-serif" font-size="6.0" font-weight="bold" font-style="normal" fill="#000" text-anchor="end" textLength="9.2" lengthAdjust="spacingAndGlyphs" >100</text>
<line x1="59.70" y1="464.0" x2="59.70" y2="467.5" stroke="#000" stroke-width="1.1"/>
<line x1="68.81" y1="464.0" x2="68.81" y2="466.4" stroke="#000" stroke-width="1.1"/>
<line x1="77.91" y1="464.0" x2="77.91" y2="466.4" stroke="#000" stroke-width="1.1"/>
<line x1="87.02" y1="464.0" x2="87.02" y2="466.4" stroke="#000" stroke-width="1.1"/>
<line x1="96.12" y1="464.0" x2="96.12" y2="466.4" stroke="#000" stroke-width="1.1"/>
<line x1="105.23" y1="464.0" x2="105.23" y2="466.4" stroke="#000" stroke-width="1.1"/>
<line x1="114.34" y1="464.0" x2="114.34" y2="466.4" stroke="#000" stroke-width="1.1"/>
<line x1="123.44" y1="464.0" x2="123.44" y2="466.4" stroke="#000" stroke-width="1.1"/>
<line x1="132.55" y1="464.0" x2="132.55" y2="466.4" stroke="#000" stroke-width="1.1"/>
<line x1="141.65" y1="464.0" x2="141.65" y2="466.4" stroke="#000" stroke-width="1.1"/>
<line x1="150.76" y1="464.0" x2="150.76" y2="467.5" stroke="#000" stroke-width="1.1"/>
<line x1="159.87" y1="464.0" x2="159.87" y2="466.4" stroke="#000" stroke-width="1.1"/>
<line x1="168.97" y1="464.0" x2="168.97" y2="466.4" stroke="#000" stroke-width="1.1"/>
<line x1="178.08" y1="464.0" x2="178.08" y2="466.4" stroke="#000" stroke-width="1.1"/>
<line x1="187.18" y1="464.0" x2="187.18" y2="466.4" stroke="#000" stroke-width="1.1"/>
<line x1="196.29" y1="464.0" x2="196.29" y2="466.4" stroke="#000" stroke-width="1.1"/>
<line x1="205.40" y1="464.0" x2="205.40" y2="466.4" stroke="#000" stroke-width="1.1"/>
<line x1="214.50" y1="464.0" x2="214.50" y2="466.4" stroke="#000" stroke-width="1.1"/>
<line x1="223.61" y1="464.0" x2="223.61" y2="466.4" stroke="#000" stroke-width="1.1"/>
<line x1="232.71" y1="464.0" x2="232.71" y2="466.4" stroke="#000" stroke-width="1.1"/>
<line x1="241.82" y1="464.0" x2="241.82" y2="467.5" stroke="#000" stroke-width="1.1"/>
<line x1="250.93" y1="464.0" x2="250.93" y2="466.4" stroke="#000" stroke-width="1.1"/>
<line x1="260.03" y1="464.0" x2="260.03" y2="466.4" stroke="#000" stroke-width="1.1"/>
<line x1="269.14" y1="464.0" x2="269.14" y2="466.4" stroke="#000" stroke-width="1.1"/>
<line x1="278.24" y1="464.0" x2="278.24" y2="466.4" stroke="#000" stroke-width="1.1"/>
<line x1="287.35" y1="464.0" x2="287.35" y2="466.4" stroke="#000" stroke-width="1.1"/>
<line x1="296.46" y1="464.0" x2="296.46" y2="466.4" stroke="#000" stroke-width="1.1"/>
<line x1="305.56" y1="464.0" x2="305.56" y2="466.4" stroke="#000" stroke-width="1.1"/>
<line x1="314.67" y1="464.0" x2="314.67" y2="466.4" stroke="#000" stroke-width="1.1"/>
<line x1="323.77" y1="464.0" x2="323.77" y2="466.4" stroke="#000" stroke-width="1.1"/>
<line x1="332.88" y1="464.0" x2="332.88" y2="467.5" stroke="#000" stroke-width="1.1"/>
<line x1="341.99" y1="464.0" x2="341.99" y2="466.4" stroke="#000" stroke-width="1.1"/>
<line x1="351.09" y1="464.0" x2="351.09" y2="466.4" stroke="#000" stroke-width="1.1"/>
<line x1="360.20" y1="464.0" x2="360.20" y2="466.4" stroke="#000" stroke-width="1.1"/>
<line x1="369.30" y1="464.0" x2="369.30" y2="466.4" stroke="#000" stroke-width="1.1"/>
<line x1="378.41" y1="464.0" x2="378.41" y2="466.4" stroke="#000" stroke-width="1.1"/>
<line x1="387.52" y1="464.0" x2="387.52" y2="466.4" stroke="#000" stroke-width="1.1"/>
<line x1="396.62" y1="464.0" x2="396.62" y2="466.4" stroke="#000" stroke-width="1.1"/>
<line x1="405.73" y1="464.0" x2="405.73" y2="466.4" stroke="#000" stroke-width="1.1"/>
<line x1="414.83" y1="464.0" x2="414.83" y2="466.4" stroke="#000" stroke-width="1.1"/>
<line x1="423.94" y1="464.0" x2="423.94" y2="467.5" stroke="#000" stroke-width="1.1"/>
<text x="59.7" y="474.5" font-family="'Liberation Sans', sans-serif" font-size="6.0" font-weight="bold" font-style="normal" fill="#000" text-anchor="middle" textLength="3.1" lengthAdjust="spacingAndGlyphs" >0</text>
<text x="150.76" y="474.5" font-family="'Liberation Sans', sans-serif" font-size="6.0" font-weight="bold" font-style="normal" fill="#000" text-anchor="middle" textLength="9.4" lengthAdjust="spacingAndGlyphs" >200</text>
<text x="241.82" y="474.5" font-family="'Liberation Sans', sans-serif" font-size="6.0" font-weight="bold" font-style="normal" fill="#000" text-anchor="middle" textLength="9.4" lengthAdjust="spacingAndGlyphs" >400</text>
<text x="332.88" y="474.5" font-family="'Liberation Sans', sans-serif" font-size="6.0" font-weight="bold" font-style="normal" fill="#000" text-anchor="middle" textLength="9.4" lengthAdjust="spacingAndGlyphs" >600</text>
<text x="423.94" y="474.5" font-family="'Liberation Sans', sans-serif" font-size="6.0" font-weight="bold" font-style="normal" fill="#000" text-anchor="middle" textLength="9.4" lengthAdjust="spacingAndGlyphs" >800</text>
<text x="204.2" y="483.5" font-family="'Liberation Sans', sans-serif" font-size="6.25" font-weight="bold" font-style="normal" fill="#000" text-anchor="start" textLength="75.4" lengthAdjust="spacingAndGlyphs" >Follow-up time in months</text>
<text x="0" y="0" font-family="'Liberation Sans', sans-serif" font-size="6.3" font-weight="bold" font-style="normal" fill="#000" text-anchor="middle" textLength="66.6" lengthAdjust="spacingAndGlyphs" transform="translate(41.0,372.1) rotate(-90)">Probability of Survival</text>
<polyline points="59.70,281.20 62.00,318.00 65.00,348.00 68.00,368.00 71.00,382.00 74.00,390.00 77.40,394.00 77.40,429.70" fill="none" stroke="#c9c9c9" stroke-width="0.8" stroke-linejoin="miter" />
<polyline points="59.70,281.20 62.50,325.00 66.00,356.00 69.00,375.00 72.00,390.00 76.00,402.00 81.30,410.40 81.30,450.30" fill="none" stroke="#c9c9c9" stroke-width="0.8" stroke-linejoin="miter" />
<polyline points="59.70,281.20 63.00,330.00 67.00,362.00 70.00,382.00 74.00,400.00 78.70,418.10 94.10,418.10 94.10,433.60" fill="none" stroke="#c9c9c9" stroke-width="0.8" stroke-linejoin="miter" />
<polyline points="59.70,281.20 63.50,335.00 67.50,368.00 71.00,390.00 76.00,410.00 83.20,424.60 83.20,446.40" fill="none" stroke="#c9c9c9" stroke-width="0.8" stroke-linejoin="miter" />
<polyline points="81.30,424.60 94.10,424.60" fill="none" stroke="#c9c9c9" stroke-width="0.8" stroke-linejoin="miter" />
<polyline points="81.30,433.60 102.00,433.60" fill="none" stroke="#c9c9c9" stroke-width="0.8" stroke-linejoin="miter" />
<polyline points="83.20,439.30 92.80,439.30 92.80,446.40" fill="none" stroke="#c9c9c9" stroke-width="0.8" stroke-linejoin="miter" />
<polyline points="83.20,446.40 104.00,446.40" fill="none" stroke="#c9c9c9" stroke-width="0.8" stroke-linejoin="miter" />
<polyline points="81.30,451.60 114.20,451.60" fill="none" stroke="#c9c9c9" stroke-width="0.8" stroke-linejoin="miter" />
<polyline points="86.00,409.00 99.40,412.30 166.50,412.30" fill="none" stroke="#c9c9c9" stroke-width="0.8" stroke-linejoin="miter" />
<polyline points="100.00,416.00 106.60,418.50 133.20,418.50" fill="none" stroke="#c9c9c9" stroke-width="0.8" stroke-linejoin="miter" />
<line x1="166.5" y1="412.3" x2="166.5" y2="463" stroke="#dadada" stroke-width="0.8"/>
<line x1="109" y1="416.8" x2="109" y2="418.5" stroke="#c9c9c9" stroke-width="0.6"/>
<line x1="112" y1="416.8" x2="112" y2="418.5" stroke="#c9c9c9" stroke-width="0.6"/>
<line x1="115" y1="416.8" x2="115" y2="418.5" stroke="#c9c9c9" stroke-width="0.6"/>
<line x1="118" y1="416.8" x2="118" y2="418.5" stroke="#c9c9c9" stroke-width="0.6"/>
<line x1="121" y1="416.8" x2="121" y2="418.5" stroke="#c9c9c9" stroke-width="0.6"/>
<line x1="124" y1="416.8" x2="124" y2="418.5" stroke="#c9c9c9" stroke-width="0.6"/>
<line x1="127" y1="416.8" x2="127" y2="418.5" stroke="#c9c9c9" stroke-width="0.6"/>
<line x1="130" y1="416.8" x2="130" y2="418.5" stroke="#c9c9c9" stroke-width="0.6"/>
<line x1="133" y1="416.8" x2="133" y2="418.5" stroke="#c9c9c9" stroke-width="0.6"/>
<line x1="126.7" y1="410.5" x2="126.7" y2="412.3" stroke="#c9c9c9" stroke-width="0.6"/>
<polyline points="59.70,281.20 61.40,303.00 63.70,330.00 66.70,353.70" fill="none" stroke="#000" stroke-width="1.2" stroke-linejoin="miter" />
<polyline points="63.70,330.00 66.70,353.70 69.00,369.10 71.40,379.80" fill="none" stroke="#000" stroke-width="2.4" stroke-linejoin="miter" />
<polyline points="69.00,369.10 71.40,379.80 72.80,387.90 75.80,394.00 79.80,400.50 83.70,405.50 88.70,410.00 94.60,414.50 101.50,418.80 108.70,423.90 118.80,429.60 124.00,431.80" fill="none" stroke="#000" stroke-width="3.9" stroke-linejoin="miter" stroke-linecap="round"/>
<polyline points="118.80,429.60 128.90,434.00 139.00,437.60" fill="none" stroke="#000" stroke-width="3.0" stroke-linejoin="miter" stroke-linecap="round"/>
<polyline points="136.00,436.80 139.00,437.60 144.00,439.20" fill="none" stroke="#000" stroke-width="2.0" stroke-linejoin="miter" />
<polyline points="139.00,437.60 146.20,439.70 150.50,443.30 157.70,444.80 164.90,449.10 169.20,448.80 178.50,450.00 183.00,451.60 190.80,453.20 198.50,455.00 203.00,456.20 238.50,456.20 241.50,458.50 264.60,458.50 265.50,459.80 297.00,459.80 298.00,460.60 356.00,460.60" fill="none" stroke="#000" stroke-width="1.0" stroke-linejoin="miter" />
<rect x="356" y="461.4" width="13.5" height="1.8" fill="#777"/>
<rect x="169.2" y="446.5" width="3" height="2.4" fill="#777"/>
<line x1="178.5" y1="447.8" x2="178.5" y2="450" stroke="#000" stroke-width="0.7"/>
<line x1="203" y1="454.0" x2="203" y2="456.2" stroke="#000" stroke-width="0.7"/>
<line x1="241" y1="454.0" x2="241" y2="456.2" stroke="#000" stroke-width="0.7"/>
<line x1="265" y1="456.3" x2="265" y2="458.5" stroke="#000" stroke-width="0.7"/>
<line x1="297" y1="457.6" x2="297" y2="459.8" stroke="#000" stroke-width="0.7"/>
<polyline points="59.70,281.20 61.40,303.00 65.30,336.00 67.20,355.00 69.60,369.00 72.20,381.00 77.80,392.80 84.70,400.80 86.20,405.20 86.20,407.20 99.40,407.20 99.40,421.00 104.00,421.00 104.00,432.40 111.70,432.40 111.70,447.80 125.70,447.80" fill="none" stroke="#1f8f1f" stroke-width="1.3" stroke-linejoin="miter" />
<line x1="125.7" y1="445" x2="125.7" y2="447.8" stroke="#1f8f1f" stroke-width="0.9"/>
<line x1="108.7" y1="429.6" x2="108.7" y2="432.4" stroke="#1f8f1f" stroke-width="0.8"/>
<line x1="87.5" y1="405" x2="87.5" y2="407.2" stroke="#1f8f1f" stroke-width="0.8"/>
<line x1="89" y1="405" x2="89" y2="407.2" stroke="#1f8f1f" stroke-width="0.8"/>
<line x1="91" y1="405" x2="91" y2="407.2" stroke="#1f8f1f" stroke-width="0.8"/>
<line x1="93" y1="405" x2="93" y2="407.2" stroke="#1f8f1f" stroke-width="0.8"/>
<line x1="95" y1="405" x2="95" y2="407.2" stroke="#1f8f1f" stroke-width="0.8"/>
<polyline points="59.70,281.20 61.50,300.00 63.10,336.00 63.70,355.50 65.50,355.50 65.50,367.00 67.30,368.00 68.50,392.00 70.40,425.00 71.00,440.20 78.20,440.20 78.20,463.60" fill="none" stroke="#e0502c" stroke-width="1.1" stroke-linejoin="miter" />
<text x="90.4" y="393.5" font-family="'Liberation Sans', sans-serif" font-size="6.15" font-weight="normal" font-style="normal" fill="#1f8f1f" text-anchor="start" textLength="70.3" lengthAdjust="spacingAndGlyphs" >Median survival, 22.5 mo.</text>
<text x="186.1" y="441.8" font-family="'Liberation Sans', sans-serif" font-size="6.15" font-weight="normal" font-style="normal" fill="#111" text-anchor="start" textLength="70" lengthAdjust="spacingAndGlyphs" >Median survival, 21.9 mo.</text>
<text x="81.9" y="458.5" font-family="'Liberation Sans', sans-serif" font-size="6.15" font-weight="normal" font-style="normal" fill="#e0402c" text-anchor="start" textLength="70" lengthAdjust="spacingAndGlyphs" >Median survival, 17.4 mo.</text>
<line x1="146.8" y1="318.5" x2="161.3" y2="318.5" stroke="#e0402c" stroke-width="1.4"/>
<text x="168.8" y="321.5" font-family="'Liberation Sans', sans-serif" font-size="6.4" font-weight="normal" font-style="normal" fill="#222" text-anchor="start" textLength="53.4" lengthAdjust="spacingAndGlyphs" ><tspan font-style="italic">BCOR</tspan><tspan font-size="4.2" dy="-2.4">MT</tspan><tspan dy="2.4" font-style="italic">/ASXL1</tspan><tspan font-size="4.2" dy="-2.4">MT</tspan></text>
<line x1="146.8" y1="328.5" x2="161.3" y2="328.5" stroke="#2a9a2a" stroke-width="1.4"/>
<text x="168.8" y="331.5" font-family="'Liberation Sans', sans-serif" font-size="6.4" font-weight="normal" font-style="normal" fill="#222" text-anchor="start" textLength="53.4" lengthAdjust="spacingAndGlyphs" ><tspan font-style="italic">BCOR</tspan><tspan font-size="4.2" dy="-2.4">MT</tspan><tspan dy="2.4"> + OTHER</tspan></text>
<line x1="146.8" y1="342.4" x2="161.3" y2="342.4" stroke="#d8502a" stroke-width="1.4"/>
<text x="168.8" y="344.2" font-family="'Liberation Sans', sans-serif" font-size="6.4" font-weight="normal" font-style="normal" fill="#222" text-anchor="start" textLength="53.4" lengthAdjust="spacingAndGlyphs" ><tspan font-style="italic">BCOR</tspan><tspan font-size="4.2" dy="-2.4">MT</tspan><tspan dy="2.4" font-style="italic">/ASXL1</tspan><tspan font-size="4.2" dy="-2.4">MT</tspan></text>
<line x1="146.8" y1="352.2" x2="161.3" y2="352.2" stroke="#000" stroke-width="1.4"/>
<text x="168.8" y="353.8" font-family="'Liberation Sans', sans-serif" font-size="6.4" font-weight="normal" font-style="normal" fill="#222" text-anchor="start" textLength="27" lengthAdjust="spacingAndGlyphs" ><tspan font-style="italic">BCOR</tspan><tspan font-size="4.2" dy="-2.4">WT</tspan></text>
<polyline points="227.3,318.5 231.5,318.5 231.5,328.5 227.3,328.5" fill="none" stroke="#000" stroke-width="1.3"/>
<text x="235.9" y="329.8" font-family="'Liberation Sans', sans-serif" font-size="11" font-weight="bold" font-style="normal" fill="#000" text-anchor="middle" >*</text>
<polyline points="227.3,342.3 231.5,342.3 231.5,352.3 227.3,352.3" fill="none" stroke="#000" stroke-width="1.3"/>
<text x="235.9" y="352.9" font-family="'Liberation Sans', sans-serif" font-size="11" font-weight="bold" font-style="normal" fill="#000" text-anchor="middle" >*</text>
<rect x="272.2" y="277.1" width="153.40000000000003" height="10.1" fill="#000"/>
<text x="286.8" y="284.1" font-family="'Liberation Sans', sans-serif" font-size="5.4" font-weight="bold" font-style="normal" fill="#fff" text-anchor="middle" >Group</text>
<text x="337.6" y="284.1" font-family="'Liberation Sans', sans-serif" font-size="5.4" font-weight="bold" font-style="normal" fill="#fff" text-anchor="middle" >Mutation</text>
<text x="399.8" y="284.1" font-family="'Liberation Sans', sans-serif" font-size="5.4" font-weight="bold" font-style="normal" fill="#fff" text-anchor="middle" >Median OS (mo.)</text>
<rect x="272.2" y="277.1" width="153.40000000000003" height="124.5" fill="none" stroke="#666" stroke-width="0.6"/>
<text x="286.8" y="294.50000000000006" font-family="'Liberation Sans', sans-serif" font-size="5.5" font-weight="normal" font-style="normal" fill="#000" text-anchor="middle" >A</text>
<text x="337.6" y="294.50000000000006" font-family="'Liberation Sans', sans-serif" font-size="5.5" font-weight="normal" font-style="italic" fill="#000" text-anchor="middle" >BCOR RUNX1 DNMT3A</text>
<text x="399.8" y="294.50000000000006" font-family="'Liberation Sans', sans-serif" font-size="5.5" font-weight="normal" font-style="normal" fill="#000" text-anchor="middle" >17.8</text>
<line x1="272.2" y1="297.60" x2="425.6" y2="297.60" stroke="#777" stroke-width="0.5"/>
<text x="286.8" y="304.90000000000003" font-family="'Liberation Sans', sans-serif" font-size="5.5" font-weight="normal" font-style="normal" fill="#000" text-anchor="middle" >B</text>
<text x="337.6" y="304.90000000000003" font-family="'Liberation Sans', sans-serif" font-size="5.5" font-weight="normal" font-style="italic" fill="#000" text-anchor="middle" >BCOR RUNX1 TET2</text>
<text x="399.8" y="304.90000000000003" font-family="'Liberation Sans', sans-serif" font-size="5.5" font-weight="normal" font-style="normal" fill="#000" text-anchor="middle" >16.7</text>
<line x1="272.2" y1="308.00" x2="425.6" y2="308.00" stroke="#777" stroke-width="0.5"/>
<text x="286.8" y="315.30000000000007" font-family="'Liberation Sans', sans-serif" font-size="5.5" font-weight="normal" font-style="normal" fill="#000" text-anchor="middle" >C</text>
<text x="337.6" y="315.30000000000007" font-family="'Liberation Sans', sans-serif" font-size="5.5" font-weight="normal" font-style="italic" fill="#000" text-anchor="middle" >BCOR RUNX1 ASXL1</text>
<text x="399.8" y="315.30000000000007" font-family="'Liberation Sans', sans-serif" font-size="5.5" font-weight="normal" font-style="normal" fill="#000" text-anchor="middle" >19.2</text>
<line x1="272.2" y1="318.40" x2="425.6" y2="318.40" stroke="#777" stroke-width="0.5"/>
<text x="286.8" y="325.70000000000005" font-family="'Liberation Sans', sans-serif" font-size="5.5" font-weight="normal" font-style="normal" fill="#000" text-anchor="middle" >D</text>
<text x="337.6" y="325.70000000000005" font-family="'Liberation Sans', sans-serif" font-size="5.5" font-weight="normal" font-style="italic" fill="#000" text-anchor="middle" >BCOR RUNX1</text>
<text x="399.8" y="325.70000000000005" font-family="'Liberation Sans', sans-serif" font-size="5.5" font-weight="normal" font-style="normal" fill="#000" text-anchor="middle" >22.0</text>
<line x1="272.2" y1="328.80" x2="425.6" y2="328.80" stroke="#777" stroke-width="0.5"/>
<text x="286.8" y="336.1000000000001" font-family="'Liberation Sans', sans-serif" font-size="5.5" font-weight="normal" font-style="normal" fill="#000" text-anchor="middle" >E</text>
<text x="337.6" y="336.1000000000001" font-family="'Liberation Sans', sans-serif" font-size="5.5" font-weight="normal" font-style="italic" fill="#000" text-anchor="middle" >BCOR DNMT3A TET2</text>
<text x="399.8" y="336.1000000000001" font-family="'Liberation Sans', sans-serif" font-size="5.5" font-weight="normal" font-style="normal" fill="#000" text-anchor="middle" >21.6</text>
<line x1="272.2" y1="339.20" x2="425.6" y2="339.20" stroke="#777" stroke-width="0.5"/>
<text x="286.8" y="346.50000000000006" font-family="'Liberation Sans', sans-serif" font-size="5.5" font-weight="normal" font-style="normal" fill="#000" text-anchor="middle" >F</text>
<text x="337.6" y="346.50000000000006" font-family="'Liberation Sans', sans-serif" font-size="5.5" font-weight="normal" font-style="italic" fill="#000" text-anchor="middle" >BCOR DNMT3A</text>
<text x="399.8" y="346.50000000000006" font-family="'Liberation Sans', sans-serif" font-size="5.5" font-weight="normal" font-style="normal" fill="#000" text-anchor="middle" >19.6</text>
<line x1="272.2" y1="349.60" x2="425.6" y2="349.60" stroke="#777" stroke-width="0.5"/>
<text x="286.8" y="356.90000000000003" font-family="'Liberation Sans', sans-serif" font-size="5.5" font-weight="normal" font-style="normal" fill="#000" text-anchor="middle" >G</text>
<text x="337.6" y="356.90000000000003" font-family="'Liberation Sans', sans-serif" font-size="5.5" font-weight="normal" font-style="italic" fill="#000" text-anchor="middle" >BCOR TET2</text>
<text x="399.8" y="356.90000000000003" font-family="'Liberation Sans', sans-serif" font-size="5.5" font-weight="normal" font-style="normal" fill="#000" text-anchor="middle" >14.5</text>
<line x1="272.2" y1="360.00" x2="425.6" y2="360.00" stroke="#777" stroke-width="0.5"/>
<text x="286.8" y="367.30000000000007" font-family="'Liberation Sans', sans-serif" font-size="5.5" font-weight="normal" font-style="normal" fill="#e02020" text-anchor="middle" >H</text>
<text x="337.6" y="367.30000000000007" font-family="'Liberation Sans', sans-serif" font-size="5.5" font-weight="bold" font-style="italic" fill="#e02020" text-anchor="middle" >BCOR ASXL1</text>
<text x="399.8" y="367.30000000000007" font-family="'Liberation Sans', sans-serif" font-size="5.5" font-weight="bold" font-style="normal" fill="#000" text-anchor="middle" >17.4</text>
<line x1="272.2" y1="370.40" x2="425.6" y2="370.40" stroke="#777" stroke-width="0.5"/>
<text x="286.8" y="377.70000000000005" font-family="'Liberation Sans', sans-serif" font-size="5.5" font-weight="normal" font-style="normal" fill="#2aa860" text-anchor="middle" >I</text>
<text x="337.6" y="377.70000000000005" font-family="'Liberation Sans', sans-serif" font-size="5.5" font-weight="bold" font-style="italic" fill="#2aa860" text-anchor="middle" >BCOR + Others</text>
<text x="399.8" y="377.70000000000005" font-family="'Liberation Sans', sans-serif" font-size="5.5" font-weight="bold" font-style="normal" fill="#000" text-anchor="middle" >22.5</text>
<line x1="272.2" y1="380.80" x2="425.6" y2="380.80" stroke="#777" stroke-width="0.5"/>
<text x="286.8" y="388.1000000000001" font-family="'Liberation Sans', sans-serif" font-size="5.5" font-weight="normal" font-style="normal" fill="#000" text-anchor="middle" >J</text>
<text x="337.6" y="388.1000000000001" font-family="'Liberation Sans', sans-serif" font-size="5.5" font-weight="normal" font-style="italic" fill="#000" text-anchor="middle" >BCOR ONLY</text>
<text x="399.8" y="388.1000000000001" font-family="'Liberation Sans', sans-serif" font-size="5.5" font-weight="normal" font-style="normal" fill="#000" text-anchor="middle" >19.3</text>
<line x1="272.2" y1="391.20" x2="425.6" y2="391.20" stroke="#777" stroke-width="0.5"/>
<text x="286.8" y="398.50000000000006" font-family="'Liberation Sans', sans-serif" font-size="5.5" font-weight="normal" font-style="normal" fill="#000" text-anchor="middle" ></text>
<text x="337.6" y="398.50000000000006" font-family="'Liberation Sans', sans-serif" font-size="5.5" font-weight="bold" font-style="italic" fill="#000" text-anchor="middle" >BCOR<tspan font-size="3.8" dy="-2">WT</tspan></text>
<text x="399.8" y="398.50000000000006" font-family="'Liberation Sans', sans-serif" font-size="5.5" font-weight="bold" font-style="normal" fill="#000" text-anchor="middle" >21.9</text>
</svg></body></html>
